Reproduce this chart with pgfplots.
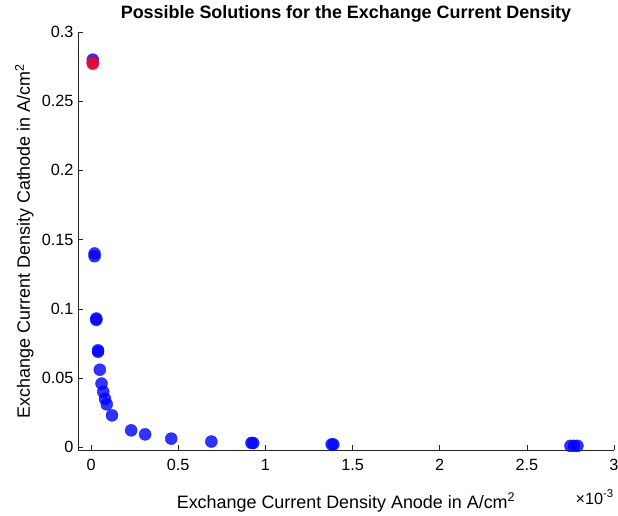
\documentclass[border=0pt]{standalone}
\usepackage{pgfplots}
\pgfplotsset{compat=1.18}
\usepackage{fontspec}
\setmainfont{Liberation Sans}
\definecolor{axgray}{rgb}{0.15,0.15,0.15}
\definecolor{mred}{rgb}{0.9,0.05,0.2}
\begin{document}
\begin{tikzpicture}
\useasboundingbox (-78bp,-66bp) rectangle (540bp,450bp);
\begin{axis}[
  scale only axis,
  width=536bp, height=418bp,
  xmin=-0.075, xmax=3,
  ymin=-0.002, ymax=0.3,
  axis x line*=bottom, axis y line*=left,
  axis line style={-, axgray, line width=0.6pt},
  tick style={axgray, line width=0.6pt},
  tick align=inside,
  major tick length=5bp,
  xtick={0,0.5,1,1.5,2,2.5,3},
  xticklabels={0,0.5,1,1.5,2,2.5,3},
  ytick={0,0.05,0.1,0.15,0.2,0.25,0.3},
  yticklabels={0,0.05,0.1,0.15,0.2,0.25,0.3},
  ticklabel style={font=\fontsize{16.3}{19}\selectfont, text=black},
  xticklabel style={yshift=-6bp},
  yticklabel style={xshift=-1bp},
  title={\textbf{Possible Solutions for the Exchange Current Density}},
  title style={font=\fontsize{18}{21}\selectfont, at={(axis description cs:0.5,1)}, anchor=base, yshift=8bp},
  xlabel={Exchange Current Density Anode in A/cm\textsuperscript{2}},
  xlabel style={font=\fontsize{18}{21}\selectfont, at={(axis description cs:0.5,0)}, anchor=base, yshift=-58bp},
  ylabel={Exchange Current Density Cathode in A/cm\textsuperscript{2}},
  ylabel style={font=\fontsize{18}{21}\selectfont, at={([xshift=-48bp]axis description cs:0,0.5)}, anchor=base},
  clip=false,
]
\addplot[only marks, mark=*, mark size=6bp, mark options={fill=blue, draw=blue, fill opacity=0.8, draw opacity=0.8}] table {
x y
0.01 0.280
0.01 0.278
0.02 0.140
0.02 0.138
0.03 0.093
0.03 0.092
0.04 0.070
0.04 0.069
0.05 0.056
0.06 0.046
0.07 0.040
0.08 0.035
0.09 0.031
0.12 0.023
0.23 0.0122
0.31 0.0093
0.46 0.0062
0.69 0.0041
0.92 0.0031
0.93 0.0030
1.38 0.0021
1.39 0.0020
2.75 0.0010
2.77 0.0010
2.79 0.0010
};
\addplot[only marks, mark=*, mark size=6bp, mark options={fill=mred, draw=mred, fill opacity=0.8, draw opacity=0.8}] table {
x y
0.01 0.277
0.01 0.278
};
\node[anchor=base east, font=\fontsize{16.3}{19}\selectfont, inner sep=0pt] at ([yshift=-54bp]rel axis cs:1,0) {×10\textsuperscript{-3}};
\end{axis}
\end{tikzpicture}
\end{document}
